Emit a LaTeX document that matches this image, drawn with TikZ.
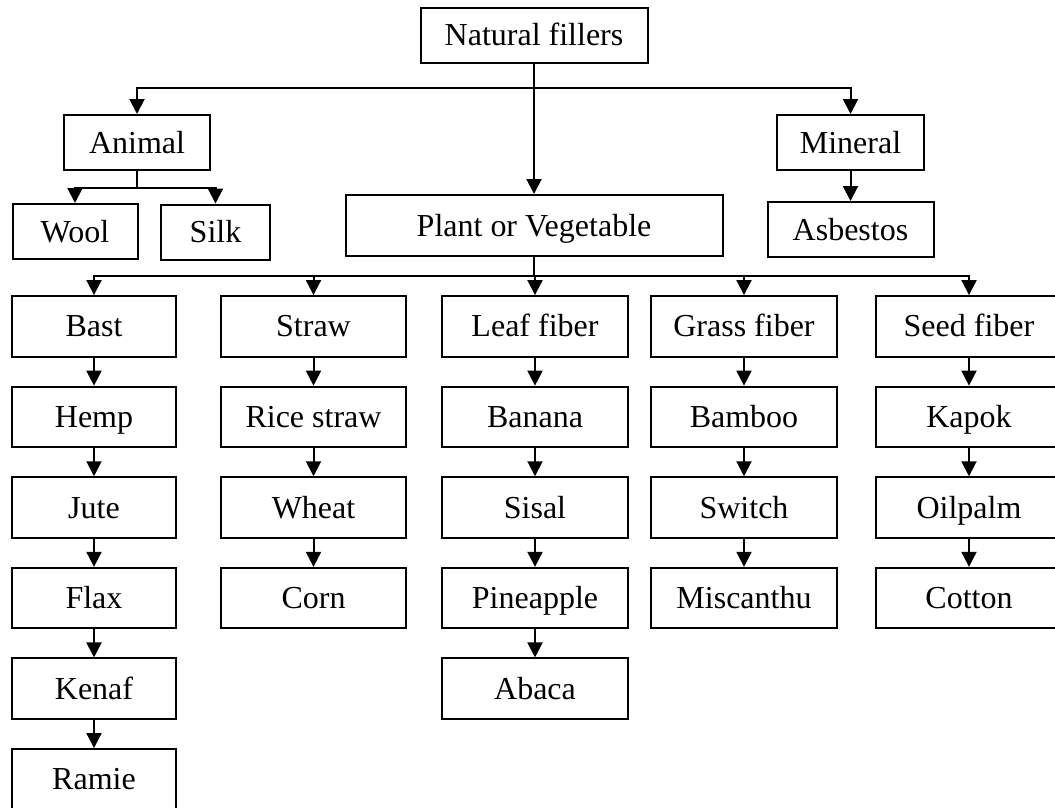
\documentclass[tikz,border=0pt]{standalone}
\usepackage{fontspec}
\setmainfont{Liberation Serif}
\usetikzlibrary{arrows.meta}

\begin{document}
\begin{tikzpicture}[x=1pt,y=-1pt,line width=2pt,
        box/.style={draw,inner sep=0pt,minimum height=55pt,text height=21pt,text depth=0pt,font=\fontsize{32}{38}\selectfont},
        row/.style={box,minimum height=60.5pt},
        arr/.style={-{Triangle[width=15pt,length=15pt]}}]
            \useasboundingbox (0,0) rectangle (1055,807);
            \node [box,minimum width=227pt] (nf) at (534,35) {Natural fillers};
            \node [box,minimum width=146pt] (animal) at (137,142.5) {Animal};
            \node [box,minimum width=147pt] (mineral) at (850.5,142.5) {Mineral};
            \node [box,minimum width=125pt] (wool) at (75,231.5) {Wool};
            \node [box,minimum width=109pt] (silk) at (215.5,232) {Silk};
            \node [box,minimum width=377pt,minimum height=61pt] (plant) at (534,225.5) {Plant or Vegetable};
            \node [box,minimum width=166pt] (asbestos) at (850.5,229.5) {Asbestos};
            \pgfmathsetmacro{\ya}{326.3}
            \pgfmathsetmacro{\dy}{90.6}
            \node [row,minimum width=164pt] (bast) at (94,\ya) {Bast};
            \node [row,minimum width=164pt] (hemp) at (94,\ya+\dy) {Hemp};
            \node [row,minimum width=164pt] (jute) at (94,\ya+2*\dy) {Jute};
            \node [row,minimum width=164pt] (flax) at (94,\ya+3*\dy) {Flax};
            \node [row,minimum width=164pt] (kenaf) at (94,\ya+4*\dy) {Kenaf};
            \node [row,minimum width=164pt] (ramie) at (94,\ya+5*\dy) {Ramie};
            \node [row,minimum width=185pt] (straw) at (313.5,\ya) {Straw};
            \node [row,minimum width=185pt] (rice) at (313.5,\ya+\dy) {Rice straw};
            \node [row,minimum width=185pt] (wheat) at (313.5,\ya+2*\dy) {Wheat};
            \node [row,minimum width=185pt] (corn) at (313.5,\ya+3*\dy) {Corn};
            \node [row,minimum width=186pt] (leaf) at (535,\ya) {Leaf fiber};
            \node [row,minimum width=186pt] (banana) at (535,\ya+\dy) {Banana};
            \node [row,minimum width=186pt] (sisal) at (535,\ya+2*\dy) {Sisal};
            \node [row,minimum width=186pt] (pineapple) at (535,\ya+3*\dy) {Pineapple};
            \node [row,minimum width=186pt] (abaca) at (535,\ya+4*\dy) {Abaca};
            \node [row,minimum width=186pt] (grass) at (744,\ya) {Grass fiber};
            \node [row,minimum width=186pt] (bamboo) at (744,\ya+\dy) {Bamboo};
            \node [row,minimum width=186pt] (switch) at (744,\ya+2*\dy) {Switch};
            \node [row,minimum width=186pt] (miscanthu) at (744,\ya+3*\dy) {Miscanthu};
            \node [row,minimum width=186pt] (seed) at (969,\ya) {Seed fiber};
            \node [row,minimum width=186pt] (kapok) at (969,\ya+\dy) {Kapok};
            \node [row,minimum width=186pt] (oilpalm) at (969,\ya+2*\dy) {Oilpalm};
            \node [row,minimum width=186pt] (cotton) at (969,\ya+3*\dy) {Cotton};
            \coordinate (j1) at (534,88.3);
            \coordinate (j2) at (137,188);
            \coordinate (j3) at (534,276);
            \draw [arr] (nf) -- (plant);
            \draw [arr] (j1) -| (animal);
            \draw [arr] (j1) -| (mineral);
            \draw (animal) -- (j2);
            \draw [arr] (j2) -| (wool);
            \draw [arr] (j2) -| (silk);
            \draw [arr] (mineral) -- (asbestos);
            \draw (plant) -- (j3);
            \draw [arr] (j3) -| (bast);
            \draw [arr] (j3) -| (straw);
            \draw [arr] (j3) -| (leaf);
            \draw [arr] (j3) -| (grass);
            \draw [arr] (j3) -| (seed);
            \draw [arr] (bast) -- (hemp);
            \draw [arr] (hemp) -- (jute);
            \draw [arr] (jute) -- (flax);
            \draw [arr] (flax) -- (kenaf);
            \draw [arr] (kenaf) -- (ramie);
            \draw [arr] (straw) -- (rice);
            \draw [arr] (rice) -- (wheat);
            \draw [arr] (wheat) -- (corn);
            \draw [arr] (leaf) -- (banana);
            \draw [arr] (banana) -- (sisal);
            \draw [arr] (sisal) -- (pineapple);
            \draw [arr] (pineapple) -- (abaca);
            \draw [arr] (grass) -- (bamboo);
            \draw [arr] (bamboo) -- (switch);
            \draw [arr] (switch) -- (miscanthu);
            \draw [arr] (seed) -- (kapok);
            \draw [arr] (kapok) -- (oilpalm);
            \draw [arr] (oilpalm) -- (cotton);
\end{tikzpicture}
\end{document}
